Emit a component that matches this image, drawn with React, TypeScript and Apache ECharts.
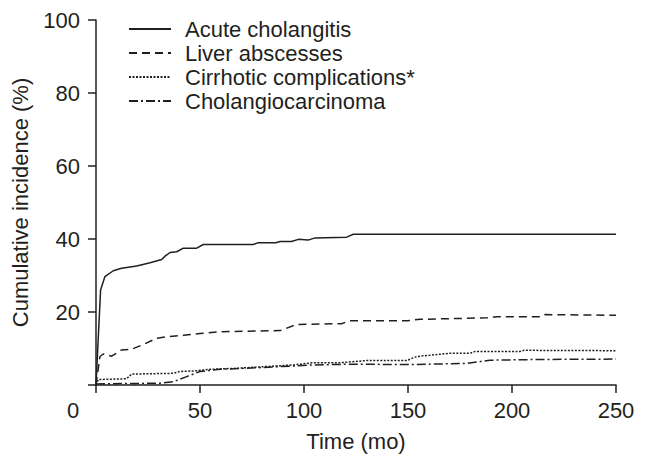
import React, { useEffect, useRef } from "react";
import * as echarts from "echarts";

const seriesNames = [
  "Acute cholangitis",
  "Liver abscesses",
  "Cirrhotic complications*",
  "Cholangiocarcinoma",
];

const xTicks = [0, 50, 100, 150, 200, 250];
const yTicks = [0, 20, 40, 60, 80, 100];

const acuteCholangitis: [number, number][] = [
  [0, 0], [2.2, 26], [4.3, 29.7], [8.3, 31.3], [12.3, 32], [19.6, 32.6],
  [26, 33.5], [31.6, 34.4], [33.2, 35.3], [35.6, 36.3], [38.8, 36.5],
  [42, 37.5], [48.4, 37.5], [51.6, 38.5], [75.6, 38.5], [78, 39],
  [86.5, 39], [88.5, 39.3], [94, 39.3], [97.3, 39.9], [102, 39.7],
  [105.3, 40.3], [120.5, 40.5], [123.7, 41.3], [250, 41.3],
];

const liverAbscesses: [number, number][] = [
  [0, 0], [1.9, 7.8], [3.5, 8.5], [7.5, 7.9], [12.3, 9.6], [17.1, 9.8],
  [22.8, 11.1], [29.2, 12.8], [34, 13.2], [42, 13.6], [50, 14.1],
  [59.6, 14.6], [88.5, 14.9], [96.5, 16.6], [118, 16.8], [122, 17.6],
  [149.4, 17.6], [155.8, 18], [187.8, 18.4], [192.6, 18.7], [213.5, 18.7],
  [215.9, 19.3], [250, 19.1],
];

const cirrhoticComplications: [number, number][] = [
  [0, 0], [1.1, 1.5], [14.7, 1.7], [17.1, 3], [37.2, 3.2], [40.4, 3.7],
  [48.4, 3.9], [54.8, 4.3], [68.3, 4.6], [94.9, 5.5], [104.5, 6.1],
  [117.3, 6.1], [130.1, 6.7], [149.4, 6.7], [154.2, 7.8], [170.2, 8.7],
  [179.8, 8.7], [182.2, 9.2], [203.8, 9.2], [205.8, 9.5], [250, 9.4],
];

const cholangiocarcinoma: [number, number][] = [
  [0, 0.3], [30.8, 0.5], [37.2, 0.9], [43.6, 2.3], [50, 3.7], [59.6, 4.3],
  [72.4, 4.6], [94.9, 5.2], [104.5, 5.5], [123.7, 5.7], [149.4, 5.6],
  [178.2, 5.9], [189.4, 6.8], [213.5, 7], [250, 7.1],
];

const seriesData = [acuteCholangitis, liverAbscesses, cirrhoticComplications, cholangiocarcinoma];
const dashTypes: any[] = ["solid", [8, 5], [2, 1.5], [9, 3, 2, 3]];

const INK = "#231f20";
const FONT = "Liberation Sans, Arial, Helvetica, sans-serif";
const FS = 22;

export default function App() {
  const ref = useRef<HTMLDivElement>(null);
  useEffect(() => {
    if (!ref.current) return;
    const chart = echarts.init(ref.current, undefined, { renderer: "svg" });
    chart.setOption({
      animation: false,
      backgroundColor: "#ffffff",
      textStyle: { fontFamily: FONT, color: INK },
      grid: { left: 96, right: 30, top: 20, bottom: 84, containLabel: false },
      legend: {
        orient: "vertical",
        left: 123,
        top: 13,
        itemWidth: 42,
        itemHeight: 14,
        itemGap: 2,
        data: seriesNames,
        itemStyle: { opacity: 0 },
        textStyle: { fontSize: FS, color: INK, fontFamily: FONT, padding: [0, 0, 0, 9] },
      },
      xAxis: {
        type: "value",
        min: xTicks[0],
        max: xTicks[xTicks.length - 1],
        interval: xTicks[1] - xTicks[0],
        name: "Time (mo)",
        nameLocation: "middle",
        nameGap: 45,
        nameTextStyle: { fontSize: FS, color: INK, fontFamily: FONT },
        axisLine: { show: true, lineStyle: { color: INK, width: 1.5 } },
        axisTick: { show: true, length: 8, inside: false, lineStyle: { color: INK, width: 1.5 } },
        axisLabel: {
          fontSize: FS,
          color: INK,
          fontFamily: FONT,
          margin: 14,
          formatter: (v: number) => (v === 0 ? "{z|0}" : String(v)),
          rich: { z: { fontSize: FS, color: INK, fontFamily: FONT, padding: [0, 46, 0, 0] } },
        },
        splitLine: { show: false },
      },
      yAxis: {
        type: "value",
        min: yTicks[0],
        max: yTicks[yTicks.length - 1],
        interval: yTicks[1] - yTicks[0],
        name: "Cumulative incidence (%)",
        nameLocation: "middle",
        nameGap: 65,
        nameTextStyle: { fontSize: FS, color: INK, fontFamily: FONT },
        axisLine: { show: true, lineStyle: { color: INK, width: 1.5 } },
        axisTick: { show: true, length: 8, inside: false, lineStyle: { color: INK, width: 1.5 } },
        axisLabel: {
          fontSize: FS,
          color: INK,
          fontFamily: FONT,
          margin: 16,
          formatter: (v: number) => (v === 0 ? "" : String(v)),
        },
        splitLine: { show: false },
      },
      series: seriesNames.map((name, i) => ({
        name,
        type: "line",
        data: seriesData[i],
        symbol: "none",
        showSymbol: false,
        lineStyle: { color: INK, width: 1.5, type: dashTypes[i] },
        itemStyle: { color: INK },
        z: 2,
      })),
    });
    return () => chart.dispose();
  }, []);
  return <div ref={ref} style={{ width: 646, height: 469, position: "absolute", left: 0, top: 0 }} />;
}
